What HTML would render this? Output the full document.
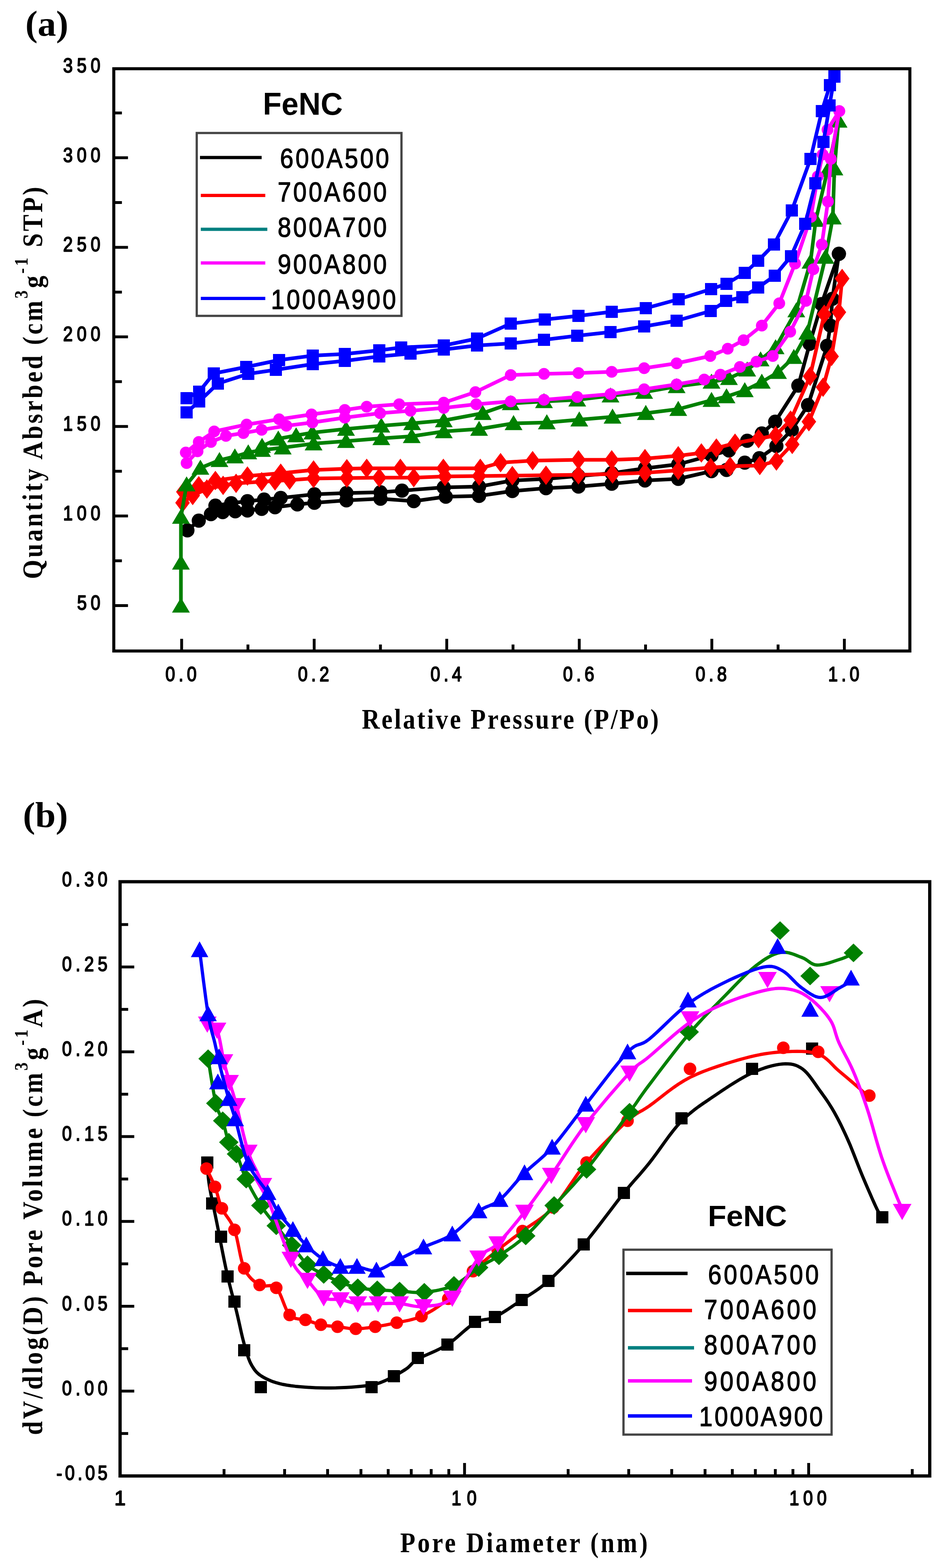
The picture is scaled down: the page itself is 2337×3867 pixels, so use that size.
<!DOCTYPE html><html><head><meta charset="utf-8"><title>FeNC BET</title>
<style>html,body{margin:0;padding:0;background:#fff;}svg{display:block;}</style></head><body>
<svg width="2337" height="3867" viewBox="0 0 2337 3867">
<rect width="100%" height="100%" fill="#fff"/>
<text x="62.5" y="88" font-family="'Liberation Serif', 'Times New Roman', serif" font-size="88" font-weight="bold" text-anchor="start" fill="#000" textLength="106" lengthAdjust="spacingAndGlyphs">(a)</text>
<defs><clipPath id="ca"><rect x="280.5" y="169.5" width="1962.5" height="1436"/></clipPath>
<clipPath id="cb"><rect x="296" y="2174.5" width="1996" height="1465"/></clipPath></defs>
<g clip-path="url(#ca)">
<polyline points="462,1308 490,1284 520,1268 549,1263 580,1261 610,1259 645,1255 678,1251 733,1244 775,1240 854,1234 938,1230 1020,1236 1099,1225 1181,1223 1263,1211 1346,1204 1426,1200 1508,1193 1590,1185 1672,1181 1754,1162 1791,1159 1836,1141 1872,1130 1914,1100 1952,1060 1992,999 2039,853 2047,803 2052,737 2068,626" fill="none" stroke="#000000" stroke-width="9" stroke-linejoin="round" stroke-linecap="round"/>
<circle cx="462" cy="1308" r="17.5" fill="#000000"/>
<circle cx="490" cy="1284" r="17.5" fill="#000000"/>
<circle cx="520" cy="1268" r="17.5" fill="#000000"/>
<circle cx="549" cy="1263" r="17.5" fill="#000000"/>
<circle cx="580" cy="1261" r="17.5" fill="#000000"/>
<circle cx="610" cy="1259" r="17.5" fill="#000000"/>
<circle cx="645" cy="1255" r="17.5" fill="#000000"/>
<circle cx="678" cy="1251" r="17.5" fill="#000000"/>
<circle cx="733" cy="1244" r="17.5" fill="#000000"/>
<circle cx="775" cy="1240" r="17.5" fill="#000000"/>
<circle cx="854" cy="1234" r="17.5" fill="#000000"/>
<circle cx="938" cy="1230" r="17.5" fill="#000000"/>
<circle cx="1020" cy="1236" r="17.5" fill="#000000"/>
<circle cx="1099" cy="1225" r="17.5" fill="#000000"/>
<circle cx="1181" cy="1223" r="17.5" fill="#000000"/>
<circle cx="1263" cy="1211" r="17.5" fill="#000000"/>
<circle cx="1346" cy="1204" r="17.5" fill="#000000"/>
<circle cx="1426" cy="1200" r="17.5" fill="#000000"/>
<circle cx="1508" cy="1193" r="17.5" fill="#000000"/>
<circle cx="1590" cy="1185" r="17.5" fill="#000000"/>
<circle cx="1672" cy="1181" r="17.5" fill="#000000"/>
<circle cx="1754" cy="1162" r="17.5" fill="#000000"/>
<circle cx="1791" cy="1159" r="17.5" fill="#000000"/>
<circle cx="1836" cy="1141" r="17.5" fill="#000000"/>
<circle cx="1872" cy="1130" r="17.5" fill="#000000"/>
<circle cx="1914" cy="1100" r="17.5" fill="#000000"/>
<circle cx="1952" cy="1060" r="17.5" fill="#000000"/>
<circle cx="1992" cy="999" r="17.5" fill="#000000"/>
<circle cx="2039" cy="853" r="17.5" fill="#000000"/>
<circle cx="2047" cy="803" r="17.5" fill="#000000"/>
<circle cx="2052" cy="737" r="17.5" fill="#000000"/>
<circle cx="2068" cy="626" r="17.5" fill="#000000"/>
<polyline points="531,1247 570,1241 610,1236 651,1232 692,1228 775,1219 854,1216 938,1214 991,1210 1094,1202 1181,1200 1263,1185 1346,1181 1426,1174 1508,1167 1590,1155 1672,1145 1754,1123 1797,1111 1842,1087 1878,1069 1911,1040 1968,951 1996,848 2025,750 2068,626" fill="none" stroke="#000000" stroke-width="9" stroke-linejoin="round" stroke-linecap="round"/>
<circle cx="531" cy="1247" r="17.5" fill="#000000"/>
<circle cx="570" cy="1241" r="17.5" fill="#000000"/>
<circle cx="610" cy="1236" r="17.5" fill="#000000"/>
<circle cx="651" cy="1232" r="17.5" fill="#000000"/>
<circle cx="692" cy="1228" r="17.5" fill="#000000"/>
<circle cx="775" cy="1219" r="17.5" fill="#000000"/>
<circle cx="854" cy="1216" r="17.5" fill="#000000"/>
<circle cx="938" cy="1214" r="17.5" fill="#000000"/>
<circle cx="991" cy="1210" r="17.5" fill="#000000"/>
<circle cx="1094" cy="1202" r="17.5" fill="#000000"/>
<circle cx="1181" cy="1200" r="17.5" fill="#000000"/>
<circle cx="1263" cy="1185" r="17.5" fill="#000000"/>
<circle cx="1346" cy="1181" r="17.5" fill="#000000"/>
<circle cx="1426" cy="1174" r="17.5" fill="#000000"/>
<circle cx="1508" cy="1167" r="17.5" fill="#000000"/>
<circle cx="1590" cy="1155" r="17.5" fill="#000000"/>
<circle cx="1672" cy="1145" r="17.5" fill="#000000"/>
<circle cx="1754" cy="1123" r="17.5" fill="#000000"/>
<circle cx="1797" cy="1111" r="17.5" fill="#000000"/>
<circle cx="1842" cy="1087" r="17.5" fill="#000000"/>
<circle cx="1878" cy="1069" r="17.5" fill="#000000"/>
<circle cx="1911" cy="1040" r="17.5" fill="#000000"/>
<circle cx="1968" cy="951" r="17.5" fill="#000000"/>
<circle cx="1996" cy="848" r="17.5" fill="#000000"/>
<circle cx="2025" cy="750" r="17.5" fill="#000000"/>
<circle cx="2068" cy="626" r="17.5" fill="#000000"/>
<polyline points="450,1240 475,1222 510,1206 550,1197 582,1192 645,1188 678,1186 714,1184 773,1180 855,1179 935,1178 1020,1178 1097,1175 1181,1174 1263,1173 1346,1172 1426,1171 1510,1169 1590,1166 1672,1160 1752,1153 1800,1150 1873,1148 1914,1137 1953,1096 1994,1040 2029,955 2050,879 2068,770 2076,687" fill="none" stroke="#ff0000" stroke-width="9" stroke-linejoin="round" stroke-linecap="round"/>
<polygon points="450,1216 468,1240 450,1264 432,1240" fill="#ff0000"/>
<polygon points="475,1198 493,1222 475,1246 457,1222" fill="#ff0000"/>
<polygon points="510,1182 528,1206 510,1230 492,1206" fill="#ff0000"/>
<polygon points="550,1173 568,1197 550,1221 532,1197" fill="#ff0000"/>
<polygon points="582,1168 600,1192 582,1216 564,1192" fill="#ff0000"/>
<polygon points="645,1164 663,1188 645,1212 627,1188" fill="#ff0000"/>
<polygon points="678,1162 696,1186 678,1210 660,1186" fill="#ff0000"/>
<polygon points="714,1160 732,1184 714,1208 696,1184" fill="#ff0000"/>
<polygon points="773,1156 791,1180 773,1204 755,1180" fill="#ff0000"/>
<polygon points="855,1155 873,1179 855,1203 837,1179" fill="#ff0000"/>
<polygon points="935,1154 953,1178 935,1202 917,1178" fill="#ff0000"/>
<polygon points="1020,1154 1038,1178 1020,1202 1002,1178" fill="#ff0000"/>
<polygon points="1097,1151 1115,1175 1097,1199 1079,1175" fill="#ff0000"/>
<polygon points="1181,1150 1199,1174 1181,1198 1163,1174" fill="#ff0000"/>
<polygon points="1263,1149 1281,1173 1263,1197 1245,1173" fill="#ff0000"/>
<polygon points="1346,1148 1364,1172 1346,1196 1328,1172" fill="#ff0000"/>
<polygon points="1426,1147 1444,1171 1426,1195 1408,1171" fill="#ff0000"/>
<polygon points="1510,1145 1528,1169 1510,1193 1492,1169" fill="#ff0000"/>
<polygon points="1590,1142 1608,1166 1590,1190 1572,1166" fill="#ff0000"/>
<polygon points="1672,1136 1690,1160 1672,1184 1654,1160" fill="#ff0000"/>
<polygon points="1752,1129 1770,1153 1752,1177 1734,1153" fill="#ff0000"/>
<polygon points="1800,1126 1818,1150 1800,1174 1782,1150" fill="#ff0000"/>
<polygon points="1873,1124 1891,1148 1873,1172 1855,1148" fill="#ff0000"/>
<polygon points="1914,1113 1932,1137 1914,1161 1896,1137" fill="#ff0000"/>
<polygon points="1953,1072 1971,1096 1953,1120 1935,1096" fill="#ff0000"/>
<polygon points="1994,1016 2012,1040 1994,1064 1976,1040" fill="#ff0000"/>
<polygon points="2029,931 2047,955 2029,979 2011,955" fill="#ff0000"/>
<polygon points="2050,855 2068,879 2050,903 2032,879" fill="#ff0000"/>
<polygon points="2068,746 2086,770 2068,794 2050,770" fill="#ff0000"/>
<polygon points="2076,663 2094,687 2076,711 2058,687" fill="#ff0000"/>
<polyline points="452,1213 490,1198 531,1185 610,1174 692,1167 773,1159 855,1156 904,1155 987,1155 1093,1155 1184,1155 1234,1141 1313,1136 1426,1134 1508,1134 1590,1131 1672,1124 1729,1117 1766,1105 1812,1093 1870,1082 1912,1074 1949,1036 1997,928 2032,775 2076,687" fill="none" stroke="#ff0000" stroke-width="9" stroke-linejoin="round" stroke-linecap="round"/>
<polygon points="452,1189 470,1213 452,1237 434,1213" fill="#ff0000"/>
<polygon points="490,1174 508,1198 490,1222 472,1198" fill="#ff0000"/>
<polygon points="531,1161 549,1185 531,1209 513,1185" fill="#ff0000"/>
<polygon points="610,1150 628,1174 610,1198 592,1174" fill="#ff0000"/>
<polygon points="692,1143 710,1167 692,1191 674,1167" fill="#ff0000"/>
<polygon points="773,1135 791,1159 773,1183 755,1159" fill="#ff0000"/>
<polygon points="855,1132 873,1156 855,1180 837,1156" fill="#ff0000"/>
<polygon points="904,1131 922,1155 904,1179 886,1155" fill="#ff0000"/>
<polygon points="987,1131 1005,1155 987,1179 969,1155" fill="#ff0000"/>
<polygon points="1093,1131 1111,1155 1093,1179 1075,1155" fill="#ff0000"/>
<polygon points="1184,1131 1202,1155 1184,1179 1166,1155" fill="#ff0000"/>
<polygon points="1234,1117 1252,1141 1234,1165 1216,1141" fill="#ff0000"/>
<polygon points="1313,1112 1331,1136 1313,1160 1295,1136" fill="#ff0000"/>
<polygon points="1426,1110 1444,1134 1426,1158 1408,1134" fill="#ff0000"/>
<polygon points="1508,1110 1526,1134 1508,1158 1490,1134" fill="#ff0000"/>
<polygon points="1590,1107 1608,1131 1590,1155 1572,1131" fill="#ff0000"/>
<polygon points="1672,1100 1690,1124 1672,1148 1654,1124" fill="#ff0000"/>
<polygon points="1729,1093 1747,1117 1729,1141 1711,1117" fill="#ff0000"/>
<polygon points="1766,1081 1784,1105 1766,1129 1748,1105" fill="#ff0000"/>
<polygon points="1812,1069 1830,1093 1812,1117 1794,1093" fill="#ff0000"/>
<polygon points="1870,1058 1888,1082 1870,1106 1852,1082" fill="#ff0000"/>
<polygon points="1912,1050 1930,1074 1912,1098 1894,1074" fill="#ff0000"/>
<polygon points="1949,1012 1967,1036 1949,1060 1931,1036" fill="#ff0000"/>
<polygon points="1997,904 2015,928 1997,952 1979,928" fill="#ff0000"/>
<polygon points="2032,751 2050,775 2032,799 2014,775" fill="#ff0000"/>
<polygon points="2076,663 2094,687 2076,711 2058,687" fill="#ff0000"/>
<polyline points="446,1494 446,1388 446,1275 460,1195 494,1154 541,1135 579,1126 612,1116 646,1110 697,1104 773,1094 853,1088 940,1081 1015,1076 1094,1064 1181,1058 1266,1044 1348,1042 1428,1035 1510,1028 1592,1019 1672,1009 1754,987 1791,978 1836,963 1878,942 1918,918 1957,881 1990,821 2035,634 2053,537 2057,416 2067,298" fill="none" stroke="#008000" stroke-width="9" stroke-linejoin="round" stroke-linecap="round"/>
<polygon points="446,1473.7 468,1510.7 424,1510.7" fill="#008000"/>
<polygon points="446,1367.7 468,1404.7 424,1404.7" fill="#008000"/>
<polygon points="446,1254.7 468,1291.7 424,1291.7" fill="#008000"/>
<polygon points="460,1174.7 482,1211.7 438,1211.7" fill="#008000"/>
<polygon points="494,1133.7 516,1170.7 472,1170.7" fill="#008000"/>
<polygon points="541,1114.7 563,1151.7 519,1151.7" fill="#008000"/>
<polygon points="579,1105.7 601,1142.7 557,1142.7" fill="#008000"/>
<polygon points="612,1095.7 634,1132.7 590,1132.7" fill="#008000"/>
<polygon points="646,1089.7 668,1126.7 624,1126.7" fill="#008000"/>
<polygon points="697,1083.7 719,1120.7 675,1120.7" fill="#008000"/>
<polygon points="773,1073.7 795,1110.7 751,1110.7" fill="#008000"/>
<polygon points="853,1067.7 875,1104.7 831,1104.7" fill="#008000"/>
<polygon points="940,1060.7 962,1097.7 918,1097.7" fill="#008000"/>
<polygon points="1015,1055.7 1037,1092.7 993,1092.7" fill="#008000"/>
<polygon points="1094,1043.7 1116,1080.7 1072,1080.7" fill="#008000"/>
<polygon points="1181,1037.7 1203,1074.7 1159,1074.7" fill="#008000"/>
<polygon points="1266,1023.6 1288,1060.7 1244,1060.7" fill="#008000"/>
<polygon points="1348,1021.6 1370,1058.7 1326,1058.7" fill="#008000"/>
<polygon points="1428,1014.6 1450,1051.7 1406,1051.7" fill="#008000"/>
<polygon points="1510,1007.6 1532,1044.7 1488,1044.7" fill="#008000"/>
<polygon points="1592,998.6 1614,1035.7 1570,1035.7" fill="#008000"/>
<polygon points="1672,988.6 1694,1025.7 1650,1025.7" fill="#008000"/>
<polygon points="1754,966.6 1776,1003.6 1732,1003.6" fill="#008000"/>
<polygon points="1791,957.6 1813,994.6 1769,994.6" fill="#008000"/>
<polygon points="1836,942.6 1858,979.6 1814,979.6" fill="#008000"/>
<polygon points="1878,921.6 1900,958.6 1856,958.6" fill="#008000"/>
<polygon points="1918,897.6 1940,934.6 1896,934.6" fill="#008000"/>
<polygon points="1957,860.6 1979,897.6 1935,897.6" fill="#008000"/>
<polygon points="1990,800.6 2012,837.6 1968,837.6" fill="#008000"/>
<polygon points="2035,613.6 2057,650.6 2013,650.6" fill="#008000"/>
<polygon points="2053,516.6 2075,553.6 2031,553.6" fill="#008000"/>
<polygon points="2057,395.6 2079,432.6 2035,432.6" fill="#008000"/>
<polygon points="2067,277.6 2089,314.6 2045,314.6" fill="#008000"/>
<polyline points="646,1100 686,1082 730,1074 770,1067 853,1058 940,1050 1016,1044 1094,1037 1190,1019 1259,995 1341,990 1423,986 1505,976 1588,967 1668,953 1754,942 1797,933 1842,912 1875,887 1912,857 1963,766 1998,646 2011,543 2040,420 2067,298" fill="none" stroke="#008000" stroke-width="9" stroke-linejoin="round" stroke-linecap="round"/>
<polygon points="646,1079.7 668,1116.7 624,1116.7" fill="#008000"/>
<polygon points="686,1061.7 708,1098.7 664,1098.7" fill="#008000"/>
<polygon points="730,1053.7 752,1090.7 708,1090.7" fill="#008000"/>
<polygon points="770,1046.7 792,1083.7 748,1083.7" fill="#008000"/>
<polygon points="853,1037.7 875,1074.7 831,1074.7" fill="#008000"/>
<polygon points="940,1029.7 962,1066.7 918,1066.7" fill="#008000"/>
<polygon points="1016,1023.6 1038,1060.7 994,1060.7" fill="#008000"/>
<polygon points="1094,1016.6 1116,1053.7 1072,1053.7" fill="#008000"/>
<polygon points="1190,998.6 1212,1035.7 1168,1035.7" fill="#008000"/>
<polygon points="1259,974.6 1281,1011.6 1237,1011.6" fill="#008000"/>
<polygon points="1341,969.6 1363,1006.6 1319,1006.6" fill="#008000"/>
<polygon points="1423,965.6 1445,1002.6 1401,1002.6" fill="#008000"/>
<polygon points="1505,955.6 1527,992.6 1483,992.6" fill="#008000"/>
<polygon points="1588,946.6 1610,983.6 1566,983.6" fill="#008000"/>
<polygon points="1668,932.6 1690,969.6 1646,969.6" fill="#008000"/>
<polygon points="1754,921.6 1776,958.6 1732,958.6" fill="#008000"/>
<polygon points="1797,912.6 1819,949.6 1775,949.6" fill="#008000"/>
<polygon points="1842,891.6 1864,928.6 1820,928.6" fill="#008000"/>
<polygon points="1875,866.6 1897,903.6 1853,903.6" fill="#008000"/>
<polygon points="1912,836.6 1934,873.6 1890,873.6" fill="#008000"/>
<polygon points="1963,745.6 1985,782.6 1941,782.6" fill="#008000"/>
<polygon points="1998,625.6 2020,662.6 1976,662.6" fill="#008000"/>
<polygon points="2011,522.6 2033,559.6 1989,559.6" fill="#008000"/>
<polygon points="2040,399.6 2062,436.6 2018,436.6" fill="#008000"/>
<polygon points="2067,277.6 2089,314.6 2045,314.6" fill="#008000"/>
<polyline points="460,1142 487,1113 520,1090 557,1075 600,1068 645,1060 706,1050 770,1042 850,1030 937,1019 1012,1013 1094,1006 1174,997 1259,990 1341,986 1423,979 1505,972 1588,960 1668,948 1736,936 1776,924 1824,905 1865,892 1905,878 1948,818 1987,742 2005,664 2026,603 2041,497 2048,392 2069,274" fill="none" stroke="#ff00ff" stroke-width="9" stroke-linejoin="round" stroke-linecap="round"/>
<circle cx="460" cy="1142" r="14.5" fill="#ff00ff"/>
<circle cx="487" cy="1113" r="14.5" fill="#ff00ff"/>
<circle cx="520" cy="1090" r="14.5" fill="#ff00ff"/>
<circle cx="557" cy="1075" r="14.5" fill="#ff00ff"/>
<circle cx="600" cy="1068" r="14.5" fill="#ff00ff"/>
<circle cx="645" cy="1060" r="14.5" fill="#ff00ff"/>
<circle cx="706" cy="1050" r="14.5" fill="#ff00ff"/>
<circle cx="770" cy="1042" r="14.5" fill="#ff00ff"/>
<circle cx="850" cy="1030" r="14.5" fill="#ff00ff"/>
<circle cx="937" cy="1019" r="14.5" fill="#ff00ff"/>
<circle cx="1012" cy="1013" r="14.5" fill="#ff00ff"/>
<circle cx="1094" cy="1006" r="14.5" fill="#ff00ff"/>
<circle cx="1174" cy="997" r="14.5" fill="#ff00ff"/>
<circle cx="1259" cy="990" r="14.5" fill="#ff00ff"/>
<circle cx="1341" cy="986" r="14.5" fill="#ff00ff"/>
<circle cx="1423" cy="979" r="14.5" fill="#ff00ff"/>
<circle cx="1505" cy="972" r="14.5" fill="#ff00ff"/>
<circle cx="1588" cy="960" r="14.5" fill="#ff00ff"/>
<circle cx="1668" cy="948" r="14.5" fill="#ff00ff"/>
<circle cx="1736" cy="936" r="14.5" fill="#ff00ff"/>
<circle cx="1776" cy="924" r="14.5" fill="#ff00ff"/>
<circle cx="1824" cy="905" r="14.5" fill="#ff00ff"/>
<circle cx="1865" cy="892" r="14.5" fill="#ff00ff"/>
<circle cx="1905" cy="878" r="14.5" fill="#ff00ff"/>
<circle cx="1948" cy="818" r="14.5" fill="#ff00ff"/>
<circle cx="1987" cy="742" r="14.5" fill="#ff00ff"/>
<circle cx="2005" cy="664" r="14.5" fill="#ff00ff"/>
<circle cx="2026" cy="603" r="14.5" fill="#ff00ff"/>
<circle cx="2041" cy="497" r="14.5" fill="#ff00ff"/>
<circle cx="2048" cy="392" r="14.5" fill="#ff00ff"/>
<circle cx="2069" cy="274" r="14.5" fill="#ff00ff"/>
<polyline points="458,1116 490,1090 528,1064 608,1047 688,1034 768,1022 850,1011 904,1003 984,997 1094,993 1172,967 1259,925 1341,922 1426,920 1508,917 1588,908 1668,896 1751,878 1794,860 1833,839 1878,803 1921,748 1960,650 1999,535 2016,435 2028,381 2040,320 2069,274" fill="none" stroke="#ff00ff" stroke-width="9" stroke-linejoin="round" stroke-linecap="round"/>
<circle cx="458" cy="1116" r="14.5" fill="#ff00ff"/>
<circle cx="490" cy="1090" r="14.5" fill="#ff00ff"/>
<circle cx="528" cy="1064" r="14.5" fill="#ff00ff"/>
<circle cx="608" cy="1047" r="14.5" fill="#ff00ff"/>
<circle cx="688" cy="1034" r="14.5" fill="#ff00ff"/>
<circle cx="768" cy="1022" r="14.5" fill="#ff00ff"/>
<circle cx="850" cy="1011" r="14.5" fill="#ff00ff"/>
<circle cx="904" cy="1003" r="14.5" fill="#ff00ff"/>
<circle cx="984" cy="997" r="14.5" fill="#ff00ff"/>
<circle cx="1094" cy="993" r="14.5" fill="#ff00ff"/>
<circle cx="1172" cy="967" r="14.5" fill="#ff00ff"/>
<circle cx="1259" cy="925" r="14.5" fill="#ff00ff"/>
<circle cx="1341" cy="922" r="14.5" fill="#ff00ff"/>
<circle cx="1426" cy="920" r="14.5" fill="#ff00ff"/>
<circle cx="1508" cy="917" r="14.5" fill="#ff00ff"/>
<circle cx="1588" cy="908" r="14.5" fill="#ff00ff"/>
<circle cx="1668" cy="896" r="14.5" fill="#ff00ff"/>
<circle cx="1751" cy="878" r="14.5" fill="#ff00ff"/>
<circle cx="1794" cy="860" r="14.5" fill="#ff00ff"/>
<circle cx="1833" cy="839" r="14.5" fill="#ff00ff"/>
<circle cx="1878" cy="803" r="14.5" fill="#ff00ff"/>
<circle cx="1921" cy="748" r="14.5" fill="#ff00ff"/>
<circle cx="1960" cy="650" r="14.5" fill="#ff00ff"/>
<circle cx="1999" cy="535" r="14.5" fill="#ff00ff"/>
<circle cx="2016" cy="435" r="14.5" fill="#ff00ff"/>
<circle cx="2028" cy="381" r="14.5" fill="#ff00ff"/>
<circle cx="2040" cy="320" r="14.5" fill="#ff00ff"/>
<circle cx="2069" cy="274" r="14.5" fill="#ff00ff"/>
<polyline points="460,1017 491,990 537,946 612,922 680,912 771,898 850,890 935,879 1012,872 1094,862 1176,852 1259,847 1341,838 1423,828 1505,819 1588,805 1668,791 1752,767 1790,742 1830,733 1869,709 1910,680 1950,632 1985,552 2010,452 2030,350 2045,260 2057,189" fill="none" stroke="#0000ff" stroke-width="9" stroke-linejoin="round" stroke-linecap="round"/>
<rect x="445" y="1002" width="30" height="30" fill="#0000ff"/>
<rect x="476" y="975" width="30" height="30" fill="#0000ff"/>
<rect x="522" y="931" width="30" height="30" fill="#0000ff"/>
<rect x="597" y="907" width="30" height="30" fill="#0000ff"/>
<rect x="665" y="897" width="30" height="30" fill="#0000ff"/>
<rect x="756" y="883" width="30" height="30" fill="#0000ff"/>
<rect x="835" y="875" width="30" height="30" fill="#0000ff"/>
<rect x="920" y="864" width="30" height="30" fill="#0000ff"/>
<rect x="997" y="857" width="30" height="30" fill="#0000ff"/>
<rect x="1079" y="847" width="30" height="30" fill="#0000ff"/>
<rect x="1161" y="837" width="30" height="30" fill="#0000ff"/>
<rect x="1244" y="832" width="30" height="30" fill="#0000ff"/>
<rect x="1326" y="823" width="30" height="30" fill="#0000ff"/>
<rect x="1408" y="813" width="30" height="30" fill="#0000ff"/>
<rect x="1490" y="804" width="30" height="30" fill="#0000ff"/>
<rect x="1573" y="790" width="30" height="30" fill="#0000ff"/>
<rect x="1653" y="776" width="30" height="30" fill="#0000ff"/>
<rect x="1737" y="752" width="30" height="30" fill="#0000ff"/>
<rect x="1775" y="727" width="30" height="30" fill="#0000ff"/>
<rect x="1815" y="718" width="30" height="30" fill="#0000ff"/>
<rect x="1854" y="694" width="30" height="30" fill="#0000ff"/>
<rect x="1895" y="665" width="30" height="30" fill="#0000ff"/>
<rect x="1935" y="617" width="30" height="30" fill="#0000ff"/>
<rect x="1970" y="537" width="30" height="30" fill="#0000ff"/>
<rect x="1995" y="437" width="30" height="30" fill="#0000ff"/>
<rect x="2015" y="335" width="30" height="30" fill="#0000ff"/>
<rect x="2030" y="245" width="30" height="30" fill="#0000ff"/>
<rect x="2042" y="174" width="30" height="30" fill="#0000ff"/>
<polyline points="460,982 491,966 527,921 607,905 688,888 771,877 850,873 935,864 989,857 1094,852 1176,835 1259,798 1343,788 1426,779 1508,769 1592,760 1673,738 1753,713 1791,700 1836,673 1869,643 1908,603 1952,519 1998,392 2026,274 2046,210 2057,183 2060,150" fill="none" stroke="#0000ff" stroke-width="9" stroke-linejoin="round" stroke-linecap="round"/>
<rect x="445" y="967" width="30" height="30" fill="#0000ff"/>
<rect x="476" y="951" width="30" height="30" fill="#0000ff"/>
<rect x="512" y="906" width="30" height="30" fill="#0000ff"/>
<rect x="592" y="890" width="30" height="30" fill="#0000ff"/>
<rect x="673" y="873" width="30" height="30" fill="#0000ff"/>
<rect x="756" y="862" width="30" height="30" fill="#0000ff"/>
<rect x="835" y="858" width="30" height="30" fill="#0000ff"/>
<rect x="920" y="849" width="30" height="30" fill="#0000ff"/>
<rect x="974" y="842" width="30" height="30" fill="#0000ff"/>
<rect x="1079" y="837" width="30" height="30" fill="#0000ff"/>
<rect x="1161" y="820" width="30" height="30" fill="#0000ff"/>
<rect x="1244" y="783" width="30" height="30" fill="#0000ff"/>
<rect x="1328" y="773" width="30" height="30" fill="#0000ff"/>
<rect x="1411" y="764" width="30" height="30" fill="#0000ff"/>
<rect x="1493" y="754" width="30" height="30" fill="#0000ff"/>
<rect x="1577" y="745" width="30" height="30" fill="#0000ff"/>
<rect x="1658" y="723" width="30" height="30" fill="#0000ff"/>
<rect x="1738" y="698" width="30" height="30" fill="#0000ff"/>
<rect x="1776" y="685" width="30" height="30" fill="#0000ff"/>
<rect x="1821" y="658" width="30" height="30" fill="#0000ff"/>
<rect x="1854" y="628" width="30" height="30" fill="#0000ff"/>
<rect x="1893" y="588" width="30" height="30" fill="#0000ff"/>
<rect x="1937" y="504" width="30" height="30" fill="#0000ff"/>
<rect x="1983" y="377" width="30" height="30" fill="#0000ff"/>
<rect x="2011" y="259" width="30" height="30" fill="#0000ff"/>
<rect x="2031" y="195" width="30" height="30" fill="#0000ff"/>
<rect x="2042" y="168" width="30" height="30" fill="#0000ff"/>
</g>
<rect x="280.5" y="169.5" width="1962.5" height="1436" fill="none" stroke="#000" stroke-width="7.5"/>
<line x1="280.5" y1="1493.5" x2="315.5" y2="1493.5" stroke="#000" stroke-width="7"/>
<line x1="280.5" y1="1383" x2="300.5" y2="1383" stroke="#000" stroke-width="7"/>
<line x1="280.5" y1="1272.6" x2="315.5" y2="1272.6" stroke="#000" stroke-width="7"/>
<line x1="280.5" y1="1162.2" x2="300.5" y2="1162.2" stroke="#000" stroke-width="7"/>
<line x1="280.5" y1="1051.7" x2="315.5" y2="1051.7" stroke="#000" stroke-width="7"/>
<line x1="280.5" y1="941.2" x2="300.5" y2="941.2" stroke="#000" stroke-width="7"/>
<line x1="280.5" y1="830.8" x2="315.5" y2="830.8" stroke="#000" stroke-width="7"/>
<line x1="280.5" y1="720.4" x2="300.5" y2="720.4" stroke="#000" stroke-width="7"/>
<line x1="280.5" y1="609.9" x2="315.5" y2="609.9" stroke="#000" stroke-width="7"/>
<line x1="280.5" y1="499.5" x2="300.5" y2="499.5" stroke="#000" stroke-width="7"/>
<line x1="280.5" y1="389" x2="315.5" y2="389" stroke="#000" stroke-width="7"/>
<line x1="280.5" y1="278.6" x2="300.5" y2="278.6" stroke="#000" stroke-width="7"/>
<text transform="translate(247.5,1504) scale(0.86,1)" x="0" y="0" font-family="'Liberation Sans', Arial, sans-serif" font-size="50" font-weight="normal" text-anchor="end" fill="#000" textLength="66.9" lengthAdjust="spacing" stroke="#000" stroke-width="2.3" stroke-linejoin="round">50</text>
<text transform="translate(247.5,1283.1) scale(0.86,1)" x="0" y="0" font-family="'Liberation Sans', Arial, sans-serif" font-size="50" font-weight="normal" text-anchor="end" fill="#000" textLength="107" lengthAdjust="spacing" stroke="#000" stroke-width="2.3" stroke-linejoin="round">100</text>
<text transform="translate(247.5,1062.2) scale(0.86,1)" x="0" y="0" font-family="'Liberation Sans', Arial, sans-serif" font-size="50" font-weight="normal" text-anchor="end" fill="#000" textLength="107" lengthAdjust="spacing" stroke="#000" stroke-width="2.3" stroke-linejoin="round">150</text>
<text transform="translate(247.5,841.3) scale(0.86,1)" x="0" y="0" font-family="'Liberation Sans', Arial, sans-serif" font-size="50" font-weight="normal" text-anchor="end" fill="#000" textLength="107" lengthAdjust="spacing" stroke="#000" stroke-width="2.3" stroke-linejoin="round">200</text>
<text transform="translate(247.5,620.4) scale(0.86,1)" x="0" y="0" font-family="'Liberation Sans', Arial, sans-serif" font-size="50" font-weight="normal" text-anchor="end" fill="#000" textLength="107" lengthAdjust="spacing" stroke="#000" stroke-width="2.3" stroke-linejoin="round">250</text>
<text transform="translate(247.5,399.5) scale(0.86,1)" x="0" y="0" font-family="'Liberation Sans', Arial, sans-serif" font-size="50" font-weight="normal" text-anchor="end" fill="#000" textLength="107" lengthAdjust="spacing" stroke="#000" stroke-width="2.3" stroke-linejoin="round">300</text>
<text transform="translate(247.5,178.6) scale(0.86,1)" x="0" y="0" font-family="'Liberation Sans', Arial, sans-serif" font-size="50" font-weight="normal" text-anchor="end" fill="#000" textLength="107" lengthAdjust="spacing" stroke="#000" stroke-width="2.3" stroke-linejoin="round">350</text>
<line x1="447.8" y1="1605.5" x2="447.8" y2="1575.5" stroke="#000" stroke-width="7"/>
<text transform="translate(446.3,1679.5) scale(0.86,1)" x="0" y="0" font-family="'Liberation Sans', Arial, sans-serif" font-size="50" font-weight="normal" text-anchor="middle" fill="#000" textLength="89.5" lengthAdjust="spacing" stroke="#000" stroke-width="2.3" stroke-linejoin="round">0.0</text>
<line x1="611.2" y1="1605.5" x2="611.2" y2="1589.5" stroke="#000" stroke-width="7"/>
<line x1="774.5" y1="1605.5" x2="774.5" y2="1575.5" stroke="#000" stroke-width="7"/>
<text transform="translate(773,1679.5) scale(0.86,1)" x="0" y="0" font-family="'Liberation Sans', Arial, sans-serif" font-size="50" font-weight="normal" text-anchor="middle" fill="#000" textLength="89.5" lengthAdjust="spacing" stroke="#000" stroke-width="2.3" stroke-linejoin="round">0.2</text>
<line x1="937.9" y1="1605.5" x2="937.9" y2="1589.5" stroke="#000" stroke-width="7"/>
<line x1="1101.3" y1="1605.5" x2="1101.3" y2="1575.5" stroke="#000" stroke-width="7"/>
<text transform="translate(1099.8,1679.5) scale(0.86,1)" x="0" y="0" font-family="'Liberation Sans', Arial, sans-serif" font-size="50" font-weight="normal" text-anchor="middle" fill="#000" textLength="89.5" lengthAdjust="spacing" stroke="#000" stroke-width="2.3" stroke-linejoin="round">0.4</text>
<line x1="1264.7" y1="1605.5" x2="1264.7" y2="1589.5" stroke="#000" stroke-width="7"/>
<line x1="1428" y1="1605.5" x2="1428" y2="1575.5" stroke="#000" stroke-width="7"/>
<text transform="translate(1426.5,1679.5) scale(0.86,1)" x="0" y="0" font-family="'Liberation Sans', Arial, sans-serif" font-size="50" font-weight="normal" text-anchor="middle" fill="#000" textLength="89.5" lengthAdjust="spacing" stroke="#000" stroke-width="2.3" stroke-linejoin="round">0.6</text>
<line x1="1591.4" y1="1605.5" x2="1591.4" y2="1589.5" stroke="#000" stroke-width="7"/>
<line x1="1754.8" y1="1605.5" x2="1754.8" y2="1575.5" stroke="#000" stroke-width="7"/>
<text transform="translate(1753.3,1679.5) scale(0.86,1)" x="0" y="0" font-family="'Liberation Sans', Arial, sans-serif" font-size="50" font-weight="normal" text-anchor="middle" fill="#000" textLength="89.5" lengthAdjust="spacing" stroke="#000" stroke-width="2.3" stroke-linejoin="round">0.8</text>
<line x1="1918.1" y1="1605.5" x2="1918.1" y2="1589.5" stroke="#000" stroke-width="7"/>
<line x1="2081.5" y1="1605.5" x2="2081.5" y2="1575.5" stroke="#000" stroke-width="7"/>
<text transform="translate(2080,1679.5) scale(0.86,1)" x="0" y="0" font-family="'Liberation Sans', Arial, sans-serif" font-size="50" font-weight="normal" text-anchor="middle" fill="#000" textLength="89.5" lengthAdjust="spacing" stroke="#000" stroke-width="2.3" stroke-linejoin="round">1.0</text>
<text transform="translate(892,1797) scale(0.88,1)" x="0" y="0" font-family="'Liberation Serif', 'Times New Roman', serif" font-size="69.5" font-weight="bold" text-anchor="start" fill="#000" textLength="831.8" lengthAdjust="spacing">Relative Pressure (P/Po)</text>
<text transform="translate(104,1428) rotate(-90) scale(0.88,1)" font-family="'Liberation Serif', 'Times New Roman', serif" font-size="69.5" font-weight="bold" fill="#000" textLength="1099" lengthAdjust="spacing">Quantity Absrbed (cm<tspan font-size="46" dy="-36">3</tspan><tspan dy="36">g</tspan><tspan font-size="46" dy="-36">-1</tspan><tspan dy="36"> STP)</tspan></text>
<text x="648" y="283" font-family="'Liberation Sans', Arial, sans-serif" font-size="77" font-weight="bold" text-anchor="start" fill="#000" textLength="197" lengthAdjust="spacingAndGlyphs">FeNC</text>
<rect x="485" y="328" width="504.7" height="451" fill="#fff" stroke="#444" stroke-width="5.5"/>
<line x1="493" y1="388.5" x2="645" y2="388.5" stroke="#000000" stroke-width="8"/>
<text transform="translate(690.2,414) scale(0.87,1)" x="0" y="0" font-family="'Liberation Sans', Arial, sans-serif" font-size="68.5" font-weight="normal" text-anchor="start" fill="#000" textLength="309.2" lengthAdjust="spacing" stroke="#000" stroke-width="1.6" stroke-linejoin="round">600A500</text>
<line x1="495" y1="482" x2="654" y2="482" stroke="#ff0000" stroke-width="8"/>
<text transform="translate(684.5,497) scale(0.87,1)" x="0" y="0" font-family="'Liberation Sans', Arial, sans-serif" font-size="68.5" font-weight="normal" text-anchor="start" fill="#000" textLength="309.2" lengthAdjust="spacing" stroke="#000" stroke-width="1.6" stroke-linejoin="round">700A600</text>
<line x1="495" y1="565.5" x2="659" y2="565.5" stroke="#008080" stroke-width="8"/>
<text transform="translate(684.5,584) scale(0.87,1)" x="0" y="0" font-family="'Liberation Sans', Arial, sans-serif" font-size="68.5" font-weight="normal" text-anchor="start" fill="#000" textLength="309.2" lengthAdjust="spacing" stroke="#000" stroke-width="1.6" stroke-linejoin="round">800A700</text>
<line x1="495" y1="648.5" x2="654" y2="648.5" stroke="#ff00ff" stroke-width="8"/>
<text transform="translate(684.5,675) scale(0.87,1)" x="0" y="0" font-family="'Liberation Sans', Arial, sans-serif" font-size="68.5" font-weight="normal" text-anchor="start" fill="#000" textLength="309.2" lengthAdjust="spacing" stroke="#000" stroke-width="1.6" stroke-linejoin="round">900A800</text>
<line x1="495" y1="736" x2="654" y2="736" stroke="#0000ff" stroke-width="8"/>
<text transform="translate(668.1,761.5) scale(0.87,1)" x="0" y="0" font-family="'Liberation Sans', Arial, sans-serif" font-size="68.5" font-weight="normal" text-anchor="start" fill="#000" textLength="354" lengthAdjust="spacing" stroke="#000" stroke-width="1.6" stroke-linejoin="round">1000A900</text>
<text x="56.5" y="2040" font-family="'Liberation Serif', 'Times New Roman', serif" font-size="88" font-weight="bold" text-anchor="start" fill="#000" textLength="111" lengthAdjust="spacingAndGlyphs">(b)</text>
<g clip-path="url(#cb)">
<polyline points="511,2867 511.3,2871.1 511.6,2876.1 511.9,2882.2 512.3,2889.1 512.9,2896.7 513.6,2904.9 514.7,2913.8 516,2923 517.7,2932.8 519.6,2943.4 521.9,2954.7 524.3,2966.5 526.9,2978.8 529.6,2991.6 532.3,3004.7 535,3018 537.8,3032 540.6,3046.8 543.6,3062.2 546.7,3077.9 549.8,3093.7 552.9,3109.1 556,3124 559,3138 562,3151.3 565.1,3164 568.2,3176.4 571.3,3188.4 574.4,3200.2 577.4,3211.6 580.2,3222.9 583,3234 585.6,3245 588.1,3256 590.5,3266.7 592.8,3277.2 595.1,3287.3 597.4,3297.1 599.7,3306.3 602,3315 604.3,3323.1 606.5,3330.8 608.7,3338 610.9,3344.8 613.1,3351.1 615.5,3357.1 618.1,3362.7 621,3368 624,3372.8 626.9,3377.2 629.9,3381.1 633.1,3384.6 636.6,3387.9 640.5,3391 645,3394 650,3397 655.5,3399.9 661.4,3402.7 667.6,3405.4 674.3,3407.9 681.5,3410.2 689.4,3412.3 697.8,3414.3 707,3416 717.1,3417.5 728.3,3418.9 740.1,3420 752.6,3421 765.3,3421.8 778.1,3422.4 790.7,3422.8 803,3423 815.3,3423 828.1,3422.8 841.1,3422.3 854,3421.7 866.5,3420.9 878.4,3420 889.3,3419 899,3418 907.3,3417 914.3,3415.9 920.3,3414.8 925.7,3413.5 930.7,3412.1 935.8,3410.4 941.1,3408.4 947,3406 953.5,3403.2 960.4,3399.9 967.5,3396.2 974.6,3392.3 981.6,3388.3 988.2,3384.4 994.4,3380.5 1000,3377 1004.6,3373.8 1008.1,3370.7 1011,3367.8 1013.8,3364.9 1016.6,3362 1020,3358.9 1024.3,3355.6 1030,3352 1037.1,3348.1 1045.3,3344.2 1054.4,3340.1 1064.1,3335.8 1074.1,3331.3 1084.1,3326.5 1093.8,3321.4 1103,3316 1111.9,3309.8 1120.8,3302.8 1129.7,3295.3 1138.5,3287.6 1147.1,3280.1 1155.5,3273.1 1163.4,3267 1171,3262 1177.9,3258.5 1184.2,3256.3 1190,3255.1 1195.6,3254.2 1201.2,3253.5 1207,3252.5 1213.2,3250.8 1220,3248 1227.4,3244.1 1235.3,3239.6 1243.5,3234.5 1251.9,3229.1 1260.5,3223.3 1269.1,3217.5 1277.6,3211.7 1286,3206 1294.1,3200.7 1302,3195.6 1309.8,3190.6 1317.7,3185.5 1325.7,3180 1334,3173.9 1342.7,3167 1352,3159 1361.8,3150.1 1372,3140.4 1382.6,3130 1393.4,3119 1404.6,3107.3 1415.9,3095.1 1427.4,3082.3 1439,3069 1451.1,3054.5 1463.8,3038.6 1476.9,3021.7 1490.1,3004.4 1503.1,2987.3 1515.6,2970.8 1527.3,2955.5 1538,2942 1547.4,2930.5 1555.7,2920.7 1563.2,2912 1570.2,2904.1 1577.1,2896.3 1584.1,2888.2 1591.6,2879.2 1600,2869 1609.1,2857.2 1618.6,2844.3 1628.5,2830.6 1638.6,2816.5 1648.8,2802.5 1659.2,2789 1669.6,2776.3 1680,2765 1690.4,2754.9 1700.8,2745.8 1711.3,2737.3 1721.9,2729.4 1732.6,2721.9 1743.4,2714.6 1754.1,2707.3 1765,2700 1776,2692.5 1787.3,2685 1798.7,2677.5 1810.1,2670.3 1821.5,2663.4 1832.6,2657 1843.5,2651.1 1854,2646 1864.2,2641.5 1874.3,2637.5 1884.3,2633.9 1894,2630.9 1903.4,2628.4 1912.4,2626.4 1921,2624.9 1929,2624 1936.4,2623.6 1943.2,2623.7 1949.6,2624.3 1955.6,2625.4 1961.3,2627.1 1966.9,2629.4 1972.4,2632.4 1978,2636 1983.6,2640.6 1989.1,2646.1 1994.5,2652.5 1999.8,2659.4 2005,2666.6 2010.1,2673.9 2015.1,2681.1 2020,2688 2024.8,2694.5 2029.4,2701 2034,2707.4 2038.4,2713.8 2042.8,2720.4 2047.2,2727.3 2051.6,2734.4 2056,2742 2060.4,2750 2064.8,2758.2 2069.2,2766.7 2073.6,2775.4 2077.9,2784.5 2082.3,2793.7 2086.6,2803.2 2091,2813 2095.4,2823.1 2099.7,2833.7 2104.1,2844.7 2108.4,2855.8 2112.8,2867 2117.2,2878.2 2121.6,2889.3 2126,2900 2130.6,2910.9 2135.5,2922.3 2140.4,2933.8 2145.4,2945.2 2150.1,2956 2154.6,2966 2158.6,2974.8 2162,2982 2164.8,2987.6 2167.2,2991.8 2169.1,2994.9 2170.8,2997.1 2172.1,2998.7 2173.2,2999.9 2174.2,3000.9 2175,3002" fill="none" stroke="#000000" stroke-width="8" stroke-linejoin="round" stroke-linecap="round"/>
<rect x="496" y="2852" width="30" height="30" fill="#000000"/>
<rect x="508" y="2953" width="30" height="30" fill="#000000"/>
<rect x="530" y="3035" width="30" height="30" fill="#000000"/>
<rect x="546" y="3133" width="30" height="30" fill="#000000"/>
<rect x="563" y="3195" width="30" height="30" fill="#000000"/>
<rect x="587" y="3315" width="30" height="30" fill="#000000"/>
<rect x="628" y="3406" width="30" height="30" fill="#000000"/>
<rect x="901" y="3406" width="30" height="30" fill="#000000"/>
<rect x="956" y="3379" width="30" height="30" fill="#000000"/>
<rect x="1015" y="3334" width="30" height="30" fill="#000000"/>
<rect x="1088" y="3301" width="30" height="30" fill="#000000"/>
<rect x="1156" y="3245" width="30" height="30" fill="#000000"/>
<rect x="1205" y="3233" width="30" height="30" fill="#000000"/>
<rect x="1271" y="3191" width="30" height="30" fill="#000000"/>
<rect x="1337" y="3144" width="30" height="30" fill="#000000"/>
<rect x="1424" y="3054" width="30" height="30" fill="#000000"/>
<rect x="1523" y="2927" width="30" height="30" fill="#000000"/>
<rect x="1665" y="2743" width="30" height="30" fill="#000000"/>
<rect x="1839" y="2621" width="30" height="30" fill="#000000"/>
<rect x="1987" y="2571" width="30" height="30" fill="#000000"/>
<rect x="2160" y="2987" width="30" height="30" fill="#000000"/>
<polyline points="509,2882 510.6,2885.4 512.9,2889.9 515.5,2895.2 518.4,2901.2 521.5,2907.6 524.5,2914.1 527.4,2920.7 530,2927 532.2,2933.2 534.2,2939.7 536.1,2946.3 537.9,2953 539.8,2959.8 541.9,2966.6 544.2,2973.3 547,2980 550.3,2986.3 553.9,2992.3 557.9,2998 562.1,3003.9 566.3,3010 570.4,3016.8 574.4,3024.4 578,3033 581.2,3043.2 584.2,3055.1 586.9,3067.9 589.6,3081.2 592.3,3094.5 595.2,3107.1 598.4,3118.4 602,3128 606.1,3135.9 610.4,3142.8 615.1,3148.8 619.9,3154 624.9,3158.5 630,3162.4 635,3165.9 640,3169 645,3171.1 650.2,3171.7 655.5,3171.5 660.8,3170.9 666.1,3170.5 671.2,3170.8 676.2,3172.5 681,3176 685.5,3181.9 689.7,3189.8 693.7,3199.1 697.6,3209.2 701.5,3219.3 705.5,3228.7 709.6,3236.8 714,3243 718.6,3247.1 723.4,3249.9 728.2,3251.5 733.2,3252.4 738.2,3252.9 743.2,3253.3 748.1,3253.9 753,3255 757.8,3256.5 762.5,3258.2 767.2,3259.8 771.9,3261.4 776.6,3263 781.3,3264.5 786.1,3265.8 791,3267 796,3268 800.9,3268.7 806,3269.4 811.1,3269.9 816.2,3270.4 821.4,3270.9 826.7,3271.4 832,3272 837.4,3272.7 842.9,3273.5 848.5,3274.3 854.1,3275.1 859.7,3275.9 865.4,3276.5 871.2,3276.9 877,3277 882.8,3276.9 888.7,3276.6 894.6,3276.1 900.5,3275.4 906.5,3274.7 912.6,3273.8 918.7,3272.9 925,3272 931.3,3271 937.7,3270 944.2,3268.9 950.7,3267.7 957.3,3266.4 964.1,3265 971,3263.6 978,3262 985.2,3260.5 992.6,3259.1 1000.1,3257.6 1007.7,3256.1 1015.4,3254.2 1023.2,3252 1031.1,3249.3 1039,3246 1047,3242.1 1055.3,3237.7 1063.6,3233 1072,3227.8 1080.4,3222.1 1088.7,3216.1 1097,3209.8 1105,3203 1112.9,3195.6 1120.6,3187.4 1128.2,3178.6 1135.8,3169.6 1143.3,3160.4 1150.9,3151.5 1158.4,3142.9 1166,3135 1173.6,3127.7 1181.2,3120.8 1188.9,3114.1 1196.5,3107.7 1204.1,3101.4 1211.8,3095.3 1219.4,3089.2 1227,3083 1234.5,3077 1241.9,3071.2 1249.2,3065.5 1256.6,3059.9 1264,3054.2 1271.7,3048.4 1279.7,3042.4 1288,3036 1296.7,3029.6 1305.8,3023.5 1315.1,3017.4 1324.7,3011 1334.4,3004.1 1344.2,2996.5 1354.1,2987.9 1364,2978 1373.8,2966.6 1383.6,2953.8 1393.5,2939.9 1403.4,2925.3 1413.6,2910.4 1424,2895.4 1434.8,2880.9 1446,2867 1458,2853.3 1471,2839.1 1484.6,2824.8 1498.3,2810.8 1511.8,2797.4 1524.7,2784.9 1536.5,2773.6 1547,2764 1555.6,2756.5 1562.5,2751.1 1568.3,2747.1 1573.5,2744 1578.7,2741.1 1584.5,2737.9 1591.4,2733.7 1600,2728 1610.1,2720.6 1621.1,2712.1 1632.9,2702.9 1645.4,2693.2 1658.6,2683.4 1672.3,2673.9 1686.5,2665 1701,2657 1716.4,2649.8 1733.1,2642.8 1750.5,2636.3 1768.3,2630.1 1786.1,2624.3 1803.4,2619 1819.8,2614.2 1835,2610 1848.9,2606.4 1861.9,2603.3 1874.3,2600.8 1886.1,2598.8 1897.5,2597.1 1908.7,2595.8 1919.8,2594.8 1931,2594 1942.4,2593.4 1953.8,2592.9 1965.1,2592.7 1976.2,2592.9 1987,2593.5 1997.3,2594.7 2007,2596.5 2016,2599 2024.1,2602.5 2031.4,2606.9 2038.1,2612.1 2044.4,2617.8 2050.3,2623.8 2056.1,2629.8 2062,2635.6 2068,2641 2074.2,2646.2 2080.5,2651.5 2086.8,2656.8 2093,2662 2099,2667.1 2104.7,2672 2110.1,2676.7 2115,2681 2119.6,2685.1 2124,2689.1 2128.1,2692.9 2131.9,2696.5 2135.4,2699.8 2138.4,2702.7 2141,2705.1 2143,2707" fill="none" stroke="#ff0000" stroke-width="8" stroke-linejoin="round" stroke-linecap="round"/>
<circle cx="509" cy="2882" r="15.5" fill="#ff0000"/>
<circle cx="530" cy="2927" r="15.5" fill="#ff0000"/>
<circle cx="547" cy="2980" r="15.5" fill="#ff0000"/>
<circle cx="578" cy="3033" r="15.5" fill="#ff0000"/>
<circle cx="602" cy="3128" r="15.5" fill="#ff0000"/>
<circle cx="640" cy="3169" r="15.5" fill="#ff0000"/>
<circle cx="681" cy="3176" r="15.5" fill="#ff0000"/>
<circle cx="714" cy="3243" r="15.5" fill="#ff0000"/>
<circle cx="753" cy="3255" r="15.5" fill="#ff0000"/>
<circle cx="791" cy="3267" r="15.5" fill="#ff0000"/>
<circle cx="832" cy="3272" r="15.5" fill="#ff0000"/>
<circle cx="877" cy="3277" r="15.5" fill="#ff0000"/>
<circle cx="925" cy="3272" r="15.5" fill="#ff0000"/>
<circle cx="978" cy="3262" r="15.5" fill="#ff0000"/>
<circle cx="1039" cy="3246" r="15.5" fill="#ff0000"/>
<circle cx="1105" cy="3203" r="15.5" fill="#ff0000"/>
<circle cx="1166" cy="3135" r="15.5" fill="#ff0000"/>
<circle cx="1227" cy="3083" r="15.5" fill="#ff0000"/>
<circle cx="1288" cy="3036" r="15.5" fill="#ff0000"/>
<circle cx="1364" cy="2978" r="15.5" fill="#ff0000"/>
<circle cx="1446" cy="2867" r="15.5" fill="#ff0000"/>
<circle cx="1547" cy="2764" r="15.5" fill="#ff0000"/>
<circle cx="1701" cy="2636" r="15.5" fill="#ff0000"/>
<circle cx="1931" cy="2584" r="15.5" fill="#ff0000"/>
<circle cx="2017" cy="2594" r="15.5" fill="#ff0000"/>
<circle cx="2143" cy="2702" r="15.5" fill="#ff0000"/>
<polyline points="513,2611 514.5,2619.9 516.5,2632.3 518.8,2647.1 521.4,2663.3 524.2,2679.8 526.9,2695.6 529.6,2709.7 532,2721 534.2,2729.5 536.4,2736.2 538.6,2741.6 540.8,2746.1 542.9,2750.1 544.9,2754.1 547,2758.6 549,2764 550.9,2770.3 552.8,2777.1 554.6,2784.2 556.4,2791.4 558.2,2798.4 560,2805.2 561.9,2811.5 564,2817 566.1,2821.5 568.4,2825.2 570.6,2828.2 572.9,2830.9 575.3,2833.8 577.8,2837 580.4,2841 583,2846 585.7,2852.2 588.4,2859.1 591.1,2866.7 593.9,2874.8 596.9,2883.1 600,2891.5 603.4,2899.9 607,2908 610.9,2916.1 615.1,2924.4 619.5,2932.8 624.1,2941.2 628.8,2949.6 633.6,2957.7 638.3,2965.6 643,2973 647.7,2980 652.4,2986.6 657.1,2992.9 661.9,2999.1 666.7,3005.1 671.5,3011 676.2,3016.9 681,3023 685.7,3029.1 690.5,3035.1 695.2,3041.1 699.9,3047.1 704.7,3053.1 709.4,3059 714.2,3065 719,3071 723.8,3077.2 728.7,3083.6 733.5,3090.1 738.4,3096.5 743.3,3102.8 748.2,3108.7 753.1,3114.1 758,3119 762.9,3123.2 767.9,3126.8 772.9,3130 777.9,3132.8 782.9,3135.4 787.9,3137.9 792.9,3140.4 798,3143 803.1,3145.6 808.1,3148.2 813.2,3150.7 818.3,3153.1 823.4,3155.5 828.6,3157.7 833.8,3159.9 839,3162 844.2,3164.1 849.5,3166.1 854.8,3168 860.1,3169.9 865.4,3171.6 870.9,3173.2 876.4,3174.7 882,3176 887.7,3177.1 893.5,3177.9 899.3,3178.6 905.2,3179.2 911.3,3179.7 917.4,3180.1 923.6,3180.5 930,3181 936.5,3181.5 943.1,3181.9 949.8,3182.3 956.7,3182.6 963.6,3183 970.7,3183.3 977.8,3183.6 985,3184 992.3,3184.5 999.5,3185.2 1006.9,3186 1014.4,3186.8 1022,3187.3 1029.8,3187.7 1037.8,3187.6 1046,3187 1054.6,3186 1063.7,3184.8 1073,3183.3 1082.5,3181.4 1092,3179.2 1101.3,3176.6 1110.4,3173.6 1119,3170 1127.3,3165.7 1135.4,3160.5 1143.2,3154.8 1150.9,3148.8 1158.5,3142.6 1165.8,3136.6 1173,3131 1180,3126 1186.7,3121.8 1192.9,3118.2 1198.9,3114.9 1204.7,3111.8 1210.6,3108.7 1216.6,3105.3 1223.1,3101.5 1230,3097 1237.5,3092 1245.3,3086.8 1253.4,3081.2 1261.8,3075.4 1270.3,3069.2 1278.8,3062.5 1287.4,3055.5 1296,3048 1304.5,3040 1313,3031.4 1321.5,3022.4 1330.1,3013 1338.8,3003.3 1347.7,2993.3 1356.7,2983.2 1366,2973 1375.3,2962.9 1384.7,2953 1394.1,2942.9 1403.8,2932.6 1413.7,2921.8 1423.9,2910.2 1434.7,2897.7 1446,2884 1458.4,2868.4 1472,2850.7 1486.4,2831.7 1501,2812.1 1515.4,2792.7 1529,2774.3 1541.3,2757.4 1552,2743 1560.4,2731.5 1566.9,2722.5 1572,2715.1 1576.4,2708.6 1580.8,2702.3 1585.8,2695.2 1592,2686.7 1600,2676 1610,2662.8 1621.4,2647.7 1633.8,2631.3 1646.9,2614.2 1660.4,2596.8 1673.8,2579.8 1686.8,2563.7 1699,2549 1710.7,2535.5 1722.3,2522.7 1733.7,2510.4 1745,2498.6 1756.1,2487.3 1767,2476.2 1777.6,2465.5 1788,2455 1798.1,2444.6 1808.1,2434.3 1817.8,2424.3 1827.2,2414.7 1836.5,2405.5 1845.6,2396.9 1854.4,2389.1 1863,2382 1871.4,2375.7 1879.4,2369.9 1887.3,2364.7 1894.9,2360.2 1902.4,2356.3 1909.7,2353.1 1916.9,2350.7 1924,2349 1931,2348.3 1938,2348.7 1944.8,2349.9 1951.4,2351.8 1957.9,2354 1964.2,2356.5 1970.2,2358.9 1976,2361 1981.3,2363.3 1986.1,2366 1990.5,2369.1 1994.8,2372.1 1999,2375 2003.6,2377.4 2008.5,2379.2 2014,2380 2020.3,2379.8 2027.2,2378.8 2034.6,2377.2 2042.2,2375.1 2049.8,2372.7 2057.1,2370.3 2063.9,2368 2070,2366 2075.5,2364.2 2080.8,2362.2 2085.9,2360.1 2090.5,2358.1 2094.7,2356.2 2098.4,2354.5 2101.5,2353.1 2104,2352" fill="none" stroke="#008000" stroke-width="8" stroke-linejoin="round" stroke-linecap="round"/>
<polygon points="513,2588 537,2611 513,2634 489,2611" fill="#008000"/>
<polygon points="532,2698 556,2721 532,2744 508,2721" fill="#008000"/>
<polygon points="549,2741 573,2764 549,2787 525,2764" fill="#008000"/>
<polygon points="564,2794 588,2817 564,2840 540,2817" fill="#008000"/>
<polygon points="583,2823 607,2846 583,2869 559,2846" fill="#008000"/>
<polygon points="607,2885 631,2908 607,2931 583,2908" fill="#008000"/>
<polygon points="643,2950 667,2973 643,2996 619,2973" fill="#008000"/>
<polygon points="681,3000 705,3023 681,3046 657,3023" fill="#008000"/>
<polygon points="719,3048 743,3071 719,3094 695,3071" fill="#008000"/>
<polygon points="758,3096 782,3119 758,3142 734,3119" fill="#008000"/>
<polygon points="798,3120 822,3143 798,3166 774,3143" fill="#008000"/>
<polygon points="839,3139 863,3162 839,3185 815,3162" fill="#008000"/>
<polygon points="882,3153 906,3176 882,3199 858,3176" fill="#008000"/>
<polygon points="930,3158 954,3181 930,3204 906,3181" fill="#008000"/>
<polygon points="985,3161 1009,3184 985,3207 961,3184" fill="#008000"/>
<polygon points="1046,3164 1070,3187 1046,3210 1022,3187" fill="#008000"/>
<polygon points="1119,3147 1143,3170 1119,3193 1095,3170" fill="#008000"/>
<polygon points="1180,3103 1204,3126 1180,3149 1156,3126" fill="#008000"/>
<polygon points="1230,3074 1254,3097 1230,3120 1206,3097" fill="#008000"/>
<polygon points="1296,3025 1320,3048 1296,3071 1272,3048" fill="#008000"/>
<polygon points="1366,2950 1390,2973 1366,2996 1342,2973" fill="#008000"/>
<polygon points="1446,2861 1470,2884 1446,2907 1422,2884" fill="#008000"/>
<polygon points="1552,2720 1576,2743 1552,2766 1528,2743" fill="#008000"/>
<polygon points="1699,2522 1723,2545 1699,2568 1675,2545" fill="#008000"/>
<polygon points="1923,2272 1947,2295 1923,2318 1899,2295" fill="#008000"/>
<polygon points="1997,2384 2021,2407 1997,2430 1973,2407" fill="#008000"/>
<polygon points="2104,2327 2128,2350 2104,2373 2080,2350" fill="#008000"/>
<polyline points="511,2525 512.9,2525.7 515.5,2526.2 518.5,2526.8 521.9,2527.6 525.5,2529.1 528.9,2531.5 532.2,2535 535,2540 537.5,2546.9 539.8,2555.7 542,2565.8 544.1,2576.8 546.2,2588 548.1,2598.9 550.1,2609.1 552,2618 553.9,2625.6 555.6,2632.5 557.3,2638.8 559,2644.8 560.7,2650.6 562.4,2656.5 564.1,2662.5 566,2669 567.9,2675.4 569.8,2681.5 571.6,2687.4 573.6,2693.5 575.6,2700.1 577.8,2707.5 580.3,2716.1 583,2726 586,2737.8 589.2,2751.4 592.7,2766.3 596.3,2781.9 600.1,2797.7 604,2813.2 608,2827.8 612,2841 615.9,2852.1 619.7,2861.5 623.5,2869.8 627.5,2877.8 631.8,2886.4 636.5,2896.2 641.9,2908.2 648,2923 655.2,2941.9 663.6,2964.5 672.7,2989.6 682.2,3015.9 691.7,3041.9 700.9,3066.3 709.5,3087.8 717,3105 723.5,3117.8 729.2,3127.4 734.5,3134.4 739.3,3139.7 743.9,3143.9 748.5,3147.7 753.1,3151.8 758,3157 763,3163.1 768,3169.3 773,3175.5 778,3181.4 783,3187.1 788,3192.1 793,3196.5 798,3200 803.1,3202.4 808.1,3203.8 813.2,3204.4 818.3,3204.6 823.4,3204.4 828.6,3204.3 833.8,3204.4 839,3205 844.2,3206.1 849.4,3207.4 854.7,3208.8 859.9,3210.3 865.3,3211.8 870.7,3213.1 876.3,3214.2 882,3215 887.9,3215.5 893.9,3215.7 900.1,3215.7 906.4,3215.6 912.7,3215.4 919.1,3215.2 925.6,3215.1 932,3215 938.4,3215 944.9,3214.8 951.4,3214.7 957.9,3214.6 964.6,3214.5 971.3,3214.5 978.1,3214.7 985,3215 992,3215.7 999,3216.9 1006.2,3218.3 1013.4,3219.8 1020.7,3221.1 1028.3,3222.1 1036,3222.4 1044,3222 1052.3,3221.2 1061,3220.5 1070,3219.6 1079.1,3218.1 1088.3,3215.8 1097.4,3212.4 1106.3,3207.5 1115,3201 1123.5,3191.9 1132.1,3180.2 1140.6,3166.8 1149,3152.4 1157.2,3137.9 1165.2,3124.1 1172.8,3111.8 1180,3102 1186.6,3094.9 1192.6,3089.8 1198.1,3086.1 1203.4,3083.2 1208.8,3080.5 1214.3,3077.3 1220.3,3073 1227,3067 1234.3,3059.4 1242.2,3050.8 1250.4,3041.5 1258.8,3031.5 1267.4,3021.1 1276.1,3010.4 1284.6,2999.7 1293,2989 1301.1,2978.5 1309.1,2968 1316.9,2957.3 1324.8,2946.4 1332.9,2935.2 1341.2,2923.4 1349.8,2911.1 1359,2898 1368.6,2884 1378.4,2869.2 1388.5,2853.7 1398.9,2837.8 1409.6,2821.5 1420.7,2805.2 1432.1,2789 1444,2773 1456.8,2756.6 1470.8,2739.4 1485.5,2721.7 1500.3,2704.2 1514.9,2687.3 1528.7,2671.7 1541.2,2657.7 1552,2646 1560.5,2637.1 1567,2630.9 1572.1,2626.6 1576.4,2623.4 1580.8,2620.5 1585.7,2617.1 1591.9,2612.6 1600,2606 1610.2,2597.3 1621.9,2587 1634.6,2575.8 1648.1,2563.9 1661.8,2552.1 1675.5,2540.6 1688.7,2530.1 1701,2521 1712.4,2513.2 1723.3,2506.2 1733.9,2500 1744.3,2494.2 1754.7,2488.9 1765.4,2483.9 1776.4,2478.9 1788,2474 1800.5,2469 1813.8,2464 1827.6,2459.1 1841.6,2454.6 1855.4,2450.3 1868.6,2446.6 1880.9,2443.5 1892,2441 1901.8,2439.3 1910.6,2438.1 1918.6,2437.5 1926.1,2437.4 1933,2437.8 1939.7,2438.5 1946.3,2439.6 1953,2441 1959.5,2442.7 1965.7,2444.7 1971.7,2447.1 1977.4,2449.8 1983,2453 1988.6,2456.5 1994.2,2460.5 2000,2465 2006.1,2470.1 2012.4,2475.8 2018.8,2482 2025.1,2488.6 2031.3,2495.4 2037.1,2502.3 2042.4,2509.2 2047,2516 2050.8,2522.6 2053.8,2529.1 2056.2,2535.7 2058.2,2542.3 2060.2,2549.1 2062.4,2556.1 2064.9,2563.4 2068,2571 2071.7,2578.9 2075.8,2586.9 2080.1,2595.1 2084.6,2603.6 2089.3,2612.3 2093.9,2621.5 2098.5,2631 2103,2641 2107.4,2651.4 2111.8,2662.2 2116.1,2673.4 2120.5,2685 2124.9,2696.9 2129.2,2709.2 2133.6,2721.9 2138,2735 2142.4,2748.8 2146.7,2763.4 2151.1,2778.5 2155.4,2794 2159.8,2809.5 2164.2,2824.6 2168.6,2839.2 2173,2853 2177.6,2866.3 2182.4,2879.6 2187.3,2892.6 2192.2,2905.2 2197,2917.2 2201.5,2928.3 2205.5,2938.3 2209,2947 2212,2954.4 2214.6,2960.5 2216.8,2965.6 2218.8,2969.9 2220.4,2973.4 2221.8,2976.3 2223,2978.8 2224,2981" fill="none" stroke="#ff00ff" stroke-width="8" stroke-linejoin="round" stroke-linecap="round"/>
<polygon points="511,2547 534,2507 488,2507" fill="#ff00ff"/>
<polygon points="535,2562 558,2522 512,2522" fill="#ff00ff"/>
<polygon points="552,2640 575,2600 529,2600" fill="#ff00ff"/>
<polygon points="566,2691 589,2651 543,2651" fill="#ff00ff"/>
<polygon points="583,2748 606,2708 560,2708" fill="#ff00ff"/>
<polygon points="612,2863 635,2823 589,2823" fill="#ff00ff"/>
<polygon points="648,2945 671,2905 625,2905" fill="#ff00ff"/>
<polygon points="717,3127 740,3087 694,3087" fill="#ff00ff"/>
<polygon points="758,3179 781,3139 735,3139" fill="#ff00ff"/>
<polygon points="798,3222 821,3182 775,3182" fill="#ff00ff"/>
<polygon points="839,3227 862,3187 816,3187" fill="#ff00ff"/>
<polygon points="882,3237 905,3197 859,3197" fill="#ff00ff"/>
<polygon points="932,3237 955,3197 909,3197" fill="#ff00ff"/>
<polygon points="985,3237 1008,3197 962,3197" fill="#ff00ff"/>
<polygon points="1044,3244 1067,3204 1021,3204" fill="#ff00ff"/>
<polygon points="1115,3223 1138,3183 1092,3183" fill="#ff00ff"/>
<polygon points="1180,3124 1203,3084 1157,3084" fill="#ff00ff"/>
<polygon points="1227,3089 1250,3049 1204,3049" fill="#ff00ff"/>
<polygon points="1293,3011 1316,2971 1270,2971" fill="#ff00ff"/>
<polygon points="1359,2920 1382,2880 1336,2880" fill="#ff00ff"/>
<polygon points="1444,2795 1467,2755 1421,2755" fill="#ff00ff"/>
<polygon points="1552,2668 1575,2628 1529,2628" fill="#ff00ff"/>
<polygon points="1701,2534 1724,2494 1678,2494" fill="#ff00ff"/>
<polygon points="1892,2437 1915,2397 1869,2397" fill="#ff00ff"/>
<polygon points="2045,2472 2068,2432 2022,2432" fill="#ff00ff"/>
<polygon points="2224,3009 2247,2969 2201,2969" fill="#ff00ff"/>
<polyline points="492,2343 493.6,2355.8 495.9,2373.4 498.5,2394.4 501.4,2417.4 504.5,2441 507.5,2463.8 510.4,2484.2 513,2501 515.3,2514.2 517.6,2525.4 519.8,2534.9 521.9,2543.2 523.9,2550.9 526,2558.2 528,2565.8 530,2574 531.9,2582.6 533.8,2590.9 535.6,2599.1 537.4,2607.2 539.2,2615.3 541,2623.4 542.9,2631.6 545,2640 547.2,2648.7 549.5,2657.7 552,2666.8 554.4,2676 556.9,2685 559.4,2693.8 561.7,2702.2 564,2710 566,2716.8 567.8,2722.5 569.5,2727.6 571.2,2732.5 573,2737.7 574.9,2743.8 577.3,2751 580,2760 583.1,2771.1 586.5,2784.2 590.1,2798.5 594,2813.6 598.1,2828.9 602.5,2843.8 607.1,2857.7 612,2870 617.4,2881 623.4,2891.2 629.8,2900.8 636.4,2909.9 642.9,2918.4 649.2,2926.6 654.9,2934.4 660,2942 664.2,2949.2 667.8,2955.8 670.9,2962 673.8,2967.8 676.5,2973.4 679.3,2978.9 682.4,2984.4 686,2990 690,2995.6 694.4,3001.2 698.9,3006.7 703.6,3012.1 708.3,3017.5 713,3022.7 717.6,3027.9 722,3033 726.2,3038 730.3,3042.9 734.2,3047.8 738.2,3052.6 742.2,3057.3 746.3,3061.9 750.5,3066.5 755,3071 759.7,3075.5 764.6,3080.1 769.7,3084.7 774.9,3089.2 780.1,3093.5 785.4,3097.6 790.7,3101.5 796,3105 801.3,3108.2 806.7,3111.2 812.1,3114.1 817.5,3116.6 822.9,3118.9 828.3,3120.9 833.7,3122.6 839,3124 844.2,3124.8 849.2,3125.1 854.2,3125 859.2,3124.6 864.2,3124.2 869.3,3123.8 874.6,3123.7 880,3124 885.6,3124.9 891.3,3126.5 897.1,3128.3 903,3130.2 909,3131.9 915.2,3133.1 921.5,3133.6 928,3133 934.7,3131.3 941.6,3128.6 948.6,3125.3 955.8,3121.4 963.1,3117.2 970.4,3112.9 977.7,3108.8 985,3105 992.2,3101.4 999.3,3097.9 1006.5,3094.3 1013.6,3090.8 1020.9,3087.1 1028.4,3083.5 1036,3079.8 1044,3076 1052.3,3072.3 1061,3068.8 1070,3065.3 1079.1,3061.8 1088.3,3058 1097.4,3053.8 1106.3,3049.2 1115,3044 1123.5,3037.9 1132,3030.8 1140.4,3023.2 1148.7,3015.2 1156.8,3007.3 1164.8,2999.8 1172.5,2992.9 1180,2987 1187.1,2982.4 1193.7,2978.9 1200.1,2976 1206.2,2973.6 1212.4,2971 1218.7,2968 1225.2,2964.1 1232,2959 1239.1,2952.5 1246.5,2945.1 1253.9,2936.9 1261.5,2928.2 1269.2,2919.2 1277,2910.2 1285,2901.4 1293,2893 1301.1,2885.3 1309.2,2878 1317.3,2871 1325.6,2864 1334.1,2856.6 1342.8,2848.7 1351.7,2839.9 1361,2830 1370.5,2819 1380.2,2807.1 1390.1,2794.4 1400.3,2781.1 1410.8,2767.3 1421.5,2753.1 1432.6,2738.6 1444,2724 1456.3,2708.3 1469.5,2691.1 1483.4,2673 1497.4,2654.9 1511.2,2637.3 1524.3,2621 1536.4,2606.6 1547,2595 1555.7,2586.7 1562.8,2581.5 1568.6,2578.3 1573.9,2576.4 1579.2,2574.8 1584.9,2572.6 1591.7,2569 1600,2563 1610,2554.5 1621.1,2544.3 1633,2533 1645.6,2520.9 1658.4,2508.6 1671.3,2496.7 1683.9,2485.7 1696,2476 1707.7,2467.6 1719.2,2459.8 1730.7,2452.6 1742.1,2445.9 1753.5,2439.6 1765,2433.5 1776.4,2427.7 1788,2422 1800,2416.2 1812.5,2410.5 1825.2,2404.9 1837.8,2399.6 1850.1,2394.8 1861.8,2390.6 1872.5,2387.3 1882,2385 1890.1,2383.7 1897.1,2383.2 1903.1,2383.6 1908.4,2384.6 1913.4,2386.2 1918.4,2388.4 1923.4,2391 1929,2394 1934.9,2397.8 1940.8,2402.6 1946.6,2408.1 1952.5,2414.1 1958.4,2420.1 1964.2,2426 1970.1,2431.4 1976,2436 1981.9,2440.2 1987.8,2444.4 1993.6,2448.4 1999.5,2452.1 2005.4,2455.3 2011.2,2457.8 2017.1,2459.4 2023,2460 2029,2459.2 2035.2,2457.2 2041.5,2454.2 2047.7,2450.5 2053.8,2446.5 2059.6,2442.6 2065,2438.9 2070,2436 2074.6,2433.5 2079,2431.1 2083.1,2428.7 2086.9,2426.5 2090.4,2424.5 2093.4,2422.7 2096,2421.2 2098,2420" fill="none" stroke="#0000ff" stroke-width="8" stroke-linejoin="round" stroke-linecap="round"/>
<polygon points="492,2321.6 513.5,2360.6 470.5,2360.6" fill="#0000ff"/>
<polygon points="513,2479.6 534.5,2518.6 491.5,2518.6" fill="#0000ff"/>
<polygon points="540,2585.6 561.5,2624.6 518.5,2624.6" fill="#0000ff"/>
<polygon points="537,2647.6 558.5,2686.6 515.5,2686.6" fill="#0000ff"/>
<polygon points="564,2688.6 585.5,2727.6 542.5,2727.6" fill="#0000ff"/>
<polygon points="580,2738.6 601.5,2777.6 558.5,2777.6" fill="#0000ff"/>
<polygon points="612,2848.6 633.5,2887.6 590.5,2887.6" fill="#0000ff"/>
<polygon points="660,2920.6 681.5,2959.6 638.5,2959.6" fill="#0000ff"/>
<polygon points="686,2968.6 707.5,3007.6 664.5,3007.6" fill="#0000ff"/>
<polygon points="722,3011.6 743.5,3050.6 700.5,3050.6" fill="#0000ff"/>
<polygon points="755,3049.6 776.5,3088.6 733.5,3088.6" fill="#0000ff"/>
<polygon points="796,3083.6 817.5,3122.6 774.5,3122.6" fill="#0000ff"/>
<polygon points="839,3102.6 860.5,3141.6 817.5,3141.6" fill="#0000ff"/>
<polygon points="880,3102.6 901.5,3141.6 858.5,3141.6" fill="#0000ff"/>
<polygon points="928,3111.6 949.5,3150.6 906.5,3150.6" fill="#0000ff"/>
<polygon points="985,3083.6 1006.5,3122.6 963.5,3122.6" fill="#0000ff"/>
<polygon points="1044,3054.6 1065.5,3093.6 1022.5,3093.6" fill="#0000ff"/>
<polygon points="1115,3022.6 1136.5,3061.6 1093.5,3061.6" fill="#0000ff"/>
<polygon points="1180,2965.6 1201.5,3004.6 1158.5,3004.6" fill="#0000ff"/>
<polygon points="1232,2937.6 1253.5,2976.6 1210.5,2976.6" fill="#0000ff"/>
<polygon points="1293,2871.6 1314.5,2910.6 1271.5,2910.6" fill="#0000ff"/>
<polygon points="1361,2808.6 1382.5,2847.6 1339.5,2847.6" fill="#0000ff"/>
<polygon points="1444,2702.6 1465.5,2741.6 1422.5,2741.6" fill="#0000ff"/>
<polygon points="1547,2573.6 1568.5,2612.6 1525.5,2612.6" fill="#0000ff"/>
<polygon points="1696,2445.6 1717.5,2484.6 1674.5,2484.6" fill="#0000ff"/>
<polygon points="1917,2313.6 1938.5,2352.6 1895.5,2352.6" fill="#0000ff"/>
<polygon points="1997,2468.6 2018.5,2507.6 1975.5,2507.6" fill="#0000ff"/>
<polygon points="2098,2391.6 2119.5,2430.6 2076.5,2430.6" fill="#0000ff"/>
</g>
<rect x="296" y="2174.5" width="1996" height="1465.5" fill="none" stroke="#000" stroke-width="8"/>
<line x1="296" y1="3535.3" x2="316" y2="3535.3" stroke="#000" stroke-width="7"/>
<line x1="296" y1="3430.7" x2="331" y2="3430.7" stroke="#000" stroke-width="7"/>
<line x1="296" y1="3326.1" x2="316" y2="3326.1" stroke="#000" stroke-width="7"/>
<line x1="296" y1="3221.5" x2="331" y2="3221.5" stroke="#000" stroke-width="7"/>
<line x1="296" y1="3116.9" x2="316" y2="3116.9" stroke="#000" stroke-width="7"/>
<line x1="296" y1="3012.3" x2="331" y2="3012.3" stroke="#000" stroke-width="7"/>
<line x1="296" y1="2907.7" x2="316" y2="2907.7" stroke="#000" stroke-width="7"/>
<line x1="296" y1="2803.1" x2="331" y2="2803.1" stroke="#000" stroke-width="7"/>
<line x1="296" y1="2698.5" x2="316" y2="2698.5" stroke="#000" stroke-width="7"/>
<line x1="296" y1="2593.9" x2="331" y2="2593.9" stroke="#000" stroke-width="7"/>
<line x1="296" y1="2489.3" x2="316" y2="2489.3" stroke="#000" stroke-width="7"/>
<line x1="296" y1="2384.7" x2="331" y2="2384.7" stroke="#000" stroke-width="7"/>
<line x1="296" y1="2280.1" x2="316" y2="2280.1" stroke="#000" stroke-width="7"/>
<text transform="translate(265,3649.9) scale(0.86,1)" x="0" y="0" font-family="'Liberation Sans', Arial, sans-serif" font-size="50" font-weight="normal" text-anchor="end" fill="#000" textLength="146.5" lengthAdjust="spacing" stroke="#000" stroke-width="2.3" stroke-linejoin="round">-0.05</text>
<text transform="translate(265,3440.7) scale(0.86,1)" x="0" y="0" font-family="'Liberation Sans', Arial, sans-serif" font-size="50" font-weight="normal" text-anchor="end" fill="#000" textLength="130.2" lengthAdjust="spacing" stroke="#000" stroke-width="2.3" stroke-linejoin="round">0.00</text>
<text transform="translate(265,3231.5) scale(0.86,1)" x="0" y="0" font-family="'Liberation Sans', Arial, sans-serif" font-size="50" font-weight="normal" text-anchor="end" fill="#000" textLength="130.2" lengthAdjust="spacing" stroke="#000" stroke-width="2.3" stroke-linejoin="round">0.05</text>
<text transform="translate(265,3022.3) scale(0.86,1)" x="0" y="0" font-family="'Liberation Sans', Arial, sans-serif" font-size="50" font-weight="normal" text-anchor="end" fill="#000" textLength="130.2" lengthAdjust="spacing" stroke="#000" stroke-width="2.3" stroke-linejoin="round">0.10</text>
<text transform="translate(265,2813.1) scale(0.86,1)" x="0" y="0" font-family="'Liberation Sans', Arial, sans-serif" font-size="50" font-weight="normal" text-anchor="end" fill="#000" textLength="130.2" lengthAdjust="spacing" stroke="#000" stroke-width="2.3" stroke-linejoin="round">0.15</text>
<text transform="translate(265,2603.9) scale(0.86,1)" x="0" y="0" font-family="'Liberation Sans', Arial, sans-serif" font-size="50" font-weight="normal" text-anchor="end" fill="#000" textLength="130.2" lengthAdjust="spacing" stroke="#000" stroke-width="2.3" stroke-linejoin="round">0.20</text>
<text transform="translate(265,2394.7) scale(0.86,1)" x="0" y="0" font-family="'Liberation Sans', Arial, sans-serif" font-size="50" font-weight="normal" text-anchor="end" fill="#000" textLength="130.2" lengthAdjust="spacing" stroke="#000" stroke-width="2.3" stroke-linejoin="round">0.25</text>
<text transform="translate(265,2185.5) scale(0.86,1)" x="0" y="0" font-family="'Liberation Sans', Arial, sans-serif" font-size="50" font-weight="normal" text-anchor="end" fill="#000" textLength="130.2" lengthAdjust="spacing" stroke="#000" stroke-width="2.3" stroke-linejoin="round">0.30</text>
<line x1="552.3" y1="3640" x2="552.3" y2="3623" stroke="#000" stroke-width="7"/>
<line x1="701.6" y1="3640" x2="701.6" y2="3623" stroke="#000" stroke-width="7"/>
<line x1="807.6" y1="3640" x2="807.6" y2="3623" stroke="#000" stroke-width="7"/>
<line x1="889.8" y1="3640" x2="889.8" y2="3623" stroke="#000" stroke-width="7"/>
<line x1="957" y1="3640" x2="957" y2="3623" stroke="#000" stroke-width="7"/>
<line x1="1013.8" y1="3640" x2="1013.8" y2="3623" stroke="#000" stroke-width="7"/>
<line x1="1063" y1="3640" x2="1063" y2="3623" stroke="#000" stroke-width="7"/>
<line x1="1106.4" y1="3640" x2="1106.4" y2="3623" stroke="#000" stroke-width="7"/>
<line x1="1145.2" y1="3640" x2="1145.2" y2="3608" stroke="#000" stroke-width="7"/>
<line x1="1400.6" y1="3640" x2="1400.6" y2="3623" stroke="#000" stroke-width="7"/>
<line x1="1549.9" y1="3640" x2="1549.9" y2="3623" stroke="#000" stroke-width="7"/>
<line x1="1655.9" y1="3640" x2="1655.9" y2="3623" stroke="#000" stroke-width="7"/>
<line x1="1738.1" y1="3640" x2="1738.1" y2="3623" stroke="#000" stroke-width="7"/>
<line x1="1805.3" y1="3640" x2="1805.3" y2="3623" stroke="#000" stroke-width="7"/>
<line x1="1862.1" y1="3640" x2="1862.1" y2="3623" stroke="#000" stroke-width="7"/>
<line x1="1911.3" y1="3640" x2="1911.3" y2="3623" stroke="#000" stroke-width="7"/>
<line x1="1954.7" y1="3640" x2="1954.7" y2="3623" stroke="#000" stroke-width="7"/>
<line x1="1993.5" y1="3640" x2="1993.5" y2="3608" stroke="#000" stroke-width="7"/>
<line x1="2248.9" y1="3640" x2="2248.9" y2="3623" stroke="#000" stroke-width="7"/>
<text x="296" y="3711.5" font-family="'Liberation Sans', Arial, sans-serif" font-size="50" font-weight="normal" text-anchor="middle" fill="#000" stroke="#000" stroke-width="2.3" stroke-linejoin="round">1</text>
<text transform="translate(1144,3711.5) scale(0.86,1)" x="0" y="0" font-family="'Liberation Sans', Arial, sans-serif" font-size="50" font-weight="normal" text-anchor="middle" fill="#000" textLength="72.1" lengthAdjust="spacing" stroke="#000" stroke-width="2.3" stroke-linejoin="round">10</text>
<text transform="translate(1992,3711.5) scale(0.86,1)" x="0" y="0" font-family="'Liberation Sans', Arial, sans-serif" font-size="50" font-weight="normal" text-anchor="middle" fill="#000" textLength="107" lengthAdjust="spacing" stroke="#000" stroke-width="2.3" stroke-linejoin="round">100</text>
<text transform="translate(986.6,3828) scale(0.88,1)" x="0" y="0" font-family="'Liberation Serif', 'Times New Roman', serif" font-size="69.5" font-weight="bold" text-anchor="start" fill="#000" textLength="693.2" lengthAdjust="spacing">Pore Diameter (nm)</text>
<text transform="translate(104,3539) rotate(-90) scale(0.88,1)" font-family="'Liberation Serif', 'Times New Roman', serif" font-size="69.5" font-weight="bold" fill="#000" textLength="1222" lengthAdjust="spacing">dV/dlog(D) Pore Volume (cm<tspan font-size="46" dy="-36">3</tspan><tspan dy="36">g</tspan><tspan font-size="46" dy="-36">-1</tspan><tspan dy="36">A)</tspan></text>
<text x="1745" y="3024" font-family="'Liberation Sans', Arial, sans-serif" font-size="72" font-weight="bold" text-anchor="start" fill="#000" textLength="195" lengthAdjust="spacingAndGlyphs">FeNC</text>
<rect x="1537" y="3082" width="513" height="456" fill="#fff" stroke="#444" stroke-width="5.5"/>
<line x1="1543.5" y1="3140.5" x2="1695" y2="3140.5" stroke="#000000" stroke-width="8.5"/>
<text transform="translate(1745.5,3167) scale(0.87,1)" x="0" y="0" font-family="'Liberation Sans', Arial, sans-serif" font-size="68.5" font-weight="normal" text-anchor="start" fill="#000" textLength="313.8" lengthAdjust="spacing" stroke="#000" stroke-width="1.6" stroke-linejoin="round">600A500</text>
<line x1="1548" y1="3232" x2="1706" y2="3232" stroke="#ff0000" stroke-width="8.5"/>
<text transform="translate(1735.5,3253) scale(0.87,1)" x="0" y="0" font-family="'Liberation Sans', Arial, sans-serif" font-size="68.5" font-weight="normal" text-anchor="start" fill="#000" textLength="318.4" lengthAdjust="spacing" stroke="#000" stroke-width="1.6" stroke-linejoin="round">700A600</text>
<line x1="1548" y1="3324" x2="1711" y2="3324" stroke="#008080" stroke-width="8.5"/>
<text transform="translate(1735.5,3340) scale(0.87,1)" x="0" y="0" font-family="'Liberation Sans', Arial, sans-serif" font-size="68.5" font-weight="normal" text-anchor="start" fill="#000" textLength="318.4" lengthAdjust="spacing" stroke="#000" stroke-width="1.6" stroke-linejoin="round">800A700</text>
<line x1="1548" y1="3405.5" x2="1706" y2="3405.5" stroke="#ff00ff" stroke-width="8.5"/>
<text transform="translate(1735.5,3430) scale(0.87,1)" x="0" y="0" font-family="'Liberation Sans', Arial, sans-serif" font-size="68.5" font-weight="normal" text-anchor="start" fill="#000" textLength="318.4" lengthAdjust="spacing" stroke="#000" stroke-width="1.6" stroke-linejoin="round">900A800</text>
<line x1="1548" y1="3492" x2="1706" y2="3492" stroke="#0000ff" stroke-width="8.5"/>
<text transform="translate(1723.5,3517) scale(0.87,1)" x="0" y="0" font-family="'Liberation Sans', Arial, sans-serif" font-size="68.5" font-weight="normal" text-anchor="start" fill="#000" textLength="350.6" lengthAdjust="spacing" stroke="#000" stroke-width="1.6" stroke-linejoin="round">1000A900</text>
</svg></body></html>
